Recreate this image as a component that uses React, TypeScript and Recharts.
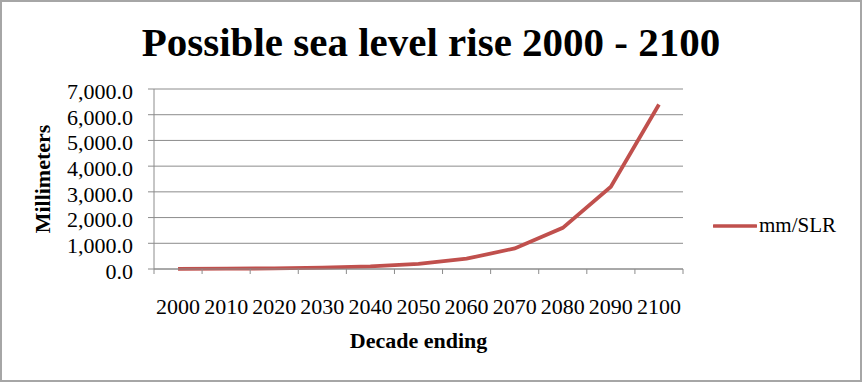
import React from "react";
import { CartesianGrid, Legend, Line, LineChart, XAxis, YAxis } from "recharts";

const years = ["2000", "2010", "2020", "2030", "2040", "2050", "2060", "2070", "2080", "2090", "2100"];
const mmSlr = [6.25, 12.5, 25, 50, 100, 200, 400, 800, 1600, 3200, 6400];
const yTicks = [0, 1000, 2000, 3000, 4000, 5000, 6000, 7000];

const data = years.map((year, i) => ({ year, "mm/SLR": mmSlr[i] }));

const W = 862;
const H = 382;
const PLOT_LEFT = 154;
const PLOT_RIGHT = 683;
const PLOT_TOP = 89;
const PLOT_BOTTOM = 269;
const HALF_BAND = (PLOT_RIGHT - PLOT_LEFT) / years.length / 2;

const FONT = '"Liberation Serif", "DejaVu Serif", serif';
const RED = "#C0504D";
const GRID = "#8c8c8c";
const X_TICK_SIZE = 5;
const X_TICK_MARGIN = 24;

function YearTick(props: any) {
  const { x, y, payload, index } = props;
  const axisY = y - X_TICK_SIZE - X_TICK_MARGIN;
  return (
    <g>
      <line x1={x - HALF_BAND} y1={axisY} x2={x - HALF_BAND} y2={axisY + X_TICK_SIZE} stroke={GRID} />
      {index === years.length - 1 && (
        <line x1={x + HALF_BAND} y1={axisY} x2={x + HALF_BAND} y2={axisY + X_TICK_SIZE} stroke={GRID} />
      )}
      <text x={x} y={y} dy="0.71em" textAnchor="middle" fill="#000" fontSize={22} fontFamily={FONT}>
        {payload.value}
      </text>
    </g>
  );
}

function LegendContent() {
  return (
    <div style={{ display: "flex", alignItems: "center", fontFamily: FONT, fontSize: 21, color: "#000" }}>
      <svg width={44} height={10}>
        <line x1={1} y1={5} x2={43} y2={5} stroke={RED} strokeWidth={3.5} strokeLinecap="round" />
      </svg>
      <span style={{ marginLeft: 2 }}>mm/SLR</span>
    </div>
  );
}

export default function App() {
  return (
    <div style={{ position: "fixed", left: 0, top: 0, width: W, height: H, background: "#fff" }}>
      <div
        style={{
          position: "absolute",
          left: 0,
          top: 22,
          width: W,
          textAlign: "center",
          fontFamily: FONT,
          fontWeight: "bold",
          fontSize: 41,
          lineHeight: "41px",
          color: "#000",
        }}
      >
        Possible sea level rise 2000 - 2100
      </div>
      <LineChart
        width={W}
        height={H}
        data={data}
        margin={{ top: PLOT_TOP, right: W - PLOT_RIGHT, left: 0, bottom: 0 }}
        style={{ position: "absolute", left: 0, top: 0 }}
      >
        <CartesianGrid stroke={GRID} vertical={false} />
        <XAxis
          dataKey="year"
          scale="band"
          height={H - PLOT_BOTTOM}
          axisLine={{ stroke: GRID }}
          tickLine={false}
          tickSize={X_TICK_SIZE}
          tickMargin={X_TICK_MARGIN}
          interval={0}
          tick={<YearTick />}
          label={{
            value: "Decade ending",
            position: "insideBottom",
            offset: 34,
            style: { fontFamily: FONT, fontWeight: "bold", fontSize: 22, fill: "#000" },
          }}
        />
        <YAxis
          width={PLOT_LEFT}
          domain={[0, 7000]}
          ticks={yTicks}
          interval={0}
          tickFormatter={(v: number) => v.toLocaleString("en-US", { minimumFractionDigits: 1, maximumFractionDigits: 1 })}
          axisLine={{ stroke: GRID }}
          tickLine={{ stroke: GRID }}
          tickSize={6}
          tickMargin={15}
          tick={{ fill: "#000", fontSize: 22, fontFamily: FONT, dy: 2 }}
          label={{
            value: "Millimeters",
            angle: -90,
            position: "center",
            dx: -35,
            style: { fontFamily: FONT, fontWeight: "bold", fontSize: 22, fill: "#000", textAnchor: "middle" },
          }}
        />
        <Legend
          layout="horizontal"
          align="center"
          verticalAlign="middle"
          content={<LegendContent />}
          wrapperStyle={{ left: 713, top: 213, width: "auto", height: "auto" }}
        />
        <Line
          type="linear"
          dataKey="mm/SLR"
          stroke={RED}
          strokeWidth={3.8}
          dot={false}
          activeDot={false}
          isAnimationActive={false}
        />
      </LineChart>
      <div
        style={{
          position: "absolute",
          left: 0,
          top: 0,
          width: W,
          height: H,
          boxSizing: "border-box",
          border: "2px solid #a6a6a6",
          pointerEvents: "none",
        }}
      />
    </div>
  );
}
